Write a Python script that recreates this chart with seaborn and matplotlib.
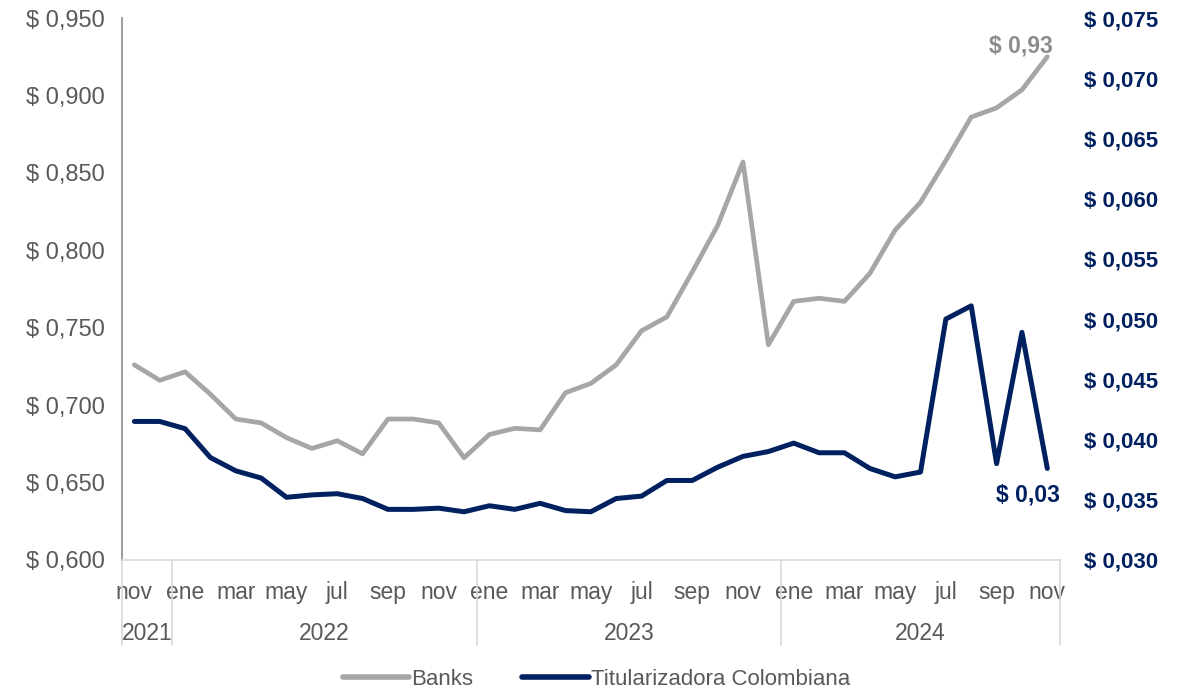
import matplotlib
matplotlib.use("Agg")
import matplotlib.pyplot as plt
import matplotlib.transforms as mtransforms
from matplotlib.lines import Line2D
from matplotlib.ticker import FuncFormatter
import numpy as np
import pandas as pd
import seaborn as sns

# Monthly series nov 2021 -> nov 2024
months = ["nov", "dic",
          "ene", "feb", "mar", "abr", "may", "jun", "jul", "ago", "sep", "oct", "nov", "dic",
          "ene", "feb", "mar", "abr", "may", "jun", "jul", "ago", "sep", "oct", "nov", "dic",
          "ene", "feb", "mar", "abr", "may", "jun", "jul", "ago", "sep", "oct", "nov"]
years = [2021] * 2 + [2022] * 12 + [2023] * 12 + [2024] * 11

banks = [0.726, 0.716, 0.7215, 0.707, 0.691, 0.6885, 0.679, 0.672, 0.677, 0.6685,
         0.691, 0.691, 0.6885, 0.666, 0.681, 0.685, 0.684, 0.708, 0.714, 0.726,
         0.748, 0.757, 0.786, 0.816, 0.857, 0.739, 0.767, 0.769, 0.767, 0.785,
         0.813, 0.831, 0.858, 0.886, 0.892, 0.9036, 0.925]
titularizadora = [0.0415, 0.0415, 0.0409, 0.0385, 0.0374, 0.0368, 0.0352, 0.0354, 0.0355, 0.0351,
                  0.0342, 0.0342, 0.0343, 0.0340, 0.0345, 0.0342, 0.0347, 0.0341, 0.0340, 0.0351,
                  0.0353, 0.0366, 0.0366, 0.0377, 0.0386, 0.0390, 0.0397, 0.0389, 0.0389, 0.0376,
                  0.0369, 0.0373, 0.0500, 0.0511, 0.0380, 0.0489, 0.0376]
end_labels = ["$ 0,93", "$ 0,03"]

GRAY = "#A6A6A6"
NAVY = "#002060"
TXT = "#595959"

df = pd.DataFrame({"idx": np.arange(len(months)), "month": months, "year": years,
                   "banks": banks, "titu": titularizadora})

sns.set_style("white")
plt.rcParams["font.family"] = ["Liberation Sans", "DejaVu Sans"]

fig = plt.figure(figsize=(11.93, 6.93), dpi=100)
ax = fig.add_axes([0.102, 0.192, 0.7865, 0.782])
ax2 = ax.twinx()

sns.lineplot(data=df, x="idx", y="banks", ax=ax, color=GRAY, lw=3.4)
sns.lineplot(data=df, x="idx", y="titu", ax=ax2, color=NAVY, lw=3.6)

ax.set_xlim(-0.5, len(months) - 0.5)
ax.set_ylim(0.6, 0.95)
ax.set_yticks(np.arange(0.6, 0.951, 0.05))
ax2.set_ylim(0.03, 0.075)
ax2.set_yticks(np.arange(0.03, 0.0751, 0.005))

ax.yaxis.set_major_formatter(FuncFormatter(lambda v, p: "$ " + f"{v:.3f}".replace(".", ",")))
ax2.yaxis.set_major_formatter(FuncFormatter(lambda v, p: "$ " + f"{v:.3f}".replace(".", ",")))

ax.tick_params(axis="y", length=0, pad=12, labelsize=17, labelcolor=TXT)
ax2.tick_params(axis="y", length=0, pad=17, labelsize=16, labelcolor=NAVY)
for t in ax2.get_yticklabels():
    t.set_fontweight("bold")

tick_idx = list(range(0, len(months), 2))
ax.set_xticks(tick_idx)
ax.set_xticklabels([months[i] for i in tick_idx])
ax.tick_params(axis="x", length=0, pad=15, labelsize=16.5, labelcolor=TXT)

ax.set_xlabel("")
ax.set_ylabel("")
ax2.set_ylabel("")

for a in (ax, ax2):
    a.spines["top"].set_visible(False)
    a.spines["right"].set_visible(False)
ax2.spines["left"].set_visible(False)
ax2.spines["bottom"].set_visible(False)
ax.spines["left"].set_color("#8C8C8C")
ax.spines["left"].set_linewidth(1.2)
ax.spines["bottom"].set_color("#D9D9D9")
ax.spines["bottom"].set_linewidth(1.2)

# year groups under the month labels
trans = mtransforms.blended_transform_factory(ax.transData, ax.transAxes)
uniq_years = sorted(set(years))
bounds = []
for y in uniq_years:
    pos = [i for i, yy in enumerate(years) if yy == y]
    bounds.append((pos[0] - 0.5, pos[-1] + 0.5))
seps = sorted(set([b for pair in bounds for b in pair]))
for s in seps:
    ax.plot([s, s], [0, -0.157], transform=trans, color="#D9D9D9", lw=1.2, clip_on=False)
for y, (a0, a1) in zip(uniq_years, bounds):
    ax.text((a0 + a1) / 2, -0.136, str(y), transform=trans, ha="center", va="center",
            fontsize=16.5, color=TXT)

# end-point labels
ax.annotate(end_labels[0], (df["idx"].iloc[-1], banks[-1]), xytext=(-19, 8),
            textcoords="offset points", ha="center", va="center", fontsize=16.5,
            fontweight="bold", color="#8C8C8C")
ax2.annotate(end_labels[1], (df["idx"].iloc[-1], titularizadora[-1]), xytext=(-14, -11),
             textcoords="offset points", ha="center", va="top", fontsize=16.5,
             fontweight="bold", color=NAVY)

handles = [Line2D([0], [0], color=GRAY, lw=4, solid_capstyle="round"),
           Line2D([0], [0], color=NAVY, lw=4, solid_capstyle="round")]
fig.legend(handles, ["Banks", "Titularizadora Colombiana"], loc="lower center",
           bbox_to_anchor=(0.5, -0.024), ncol=2, frameon=False, fontsize=16,
           labelcolor=TXT, handlelength=3.0, handletextpad=0.1, columnspacing=2.2)

fig.savefig("out.png", dpi=100)
